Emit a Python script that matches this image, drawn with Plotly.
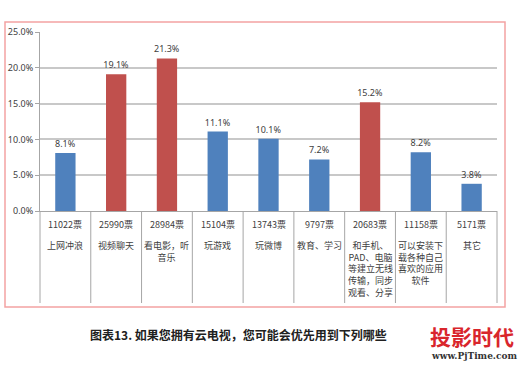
import plotly.graph_objects as go

# ---- data ----
categories = ["上网冲浪", "视频聊天", "看电影，听<br>音乐", "玩游戏", "玩微博", "教育、学习",
              "和手机、<br>PAD、电脑<br>等建立无线<br>传输，同步<br>观看、分享",
              "可以安装下<br>载各种自己<br>喜欢的应用<br>软件", "其它"]
votes = ["11022票", "25990票", "28984票", "15104票", "13743票", "9797票", "20683票", "11158票", "5171票"]
percent = [8.1, 19.1, 21.3, 11.1, 10.1, 7.2, 15.2, 8.2, 3.8]
highlighted = [False, True, True, False, False, False, True, False, False]
y_ticks = [0, 5, 10, 15, 20, 25]
y_tick_labels = ["0.0%", "5.0%", "10.0%", "15.0%", "20.0%", "25.0%"]
title_text = "图表13. 如果您拥有云电视，您可能会优先用到下列哪些"
logo_cn = "投影时代"
logo_url = "www.PjTime.com"

W, H = 523, 365
L, R, T, B = 40, 26, 32, 154
plot_w = W - L - R
plot_h = H - T - B

def py(pix_y):
    return (H - B - pix_y) / plot_h

def px(pix_x):
    return (pix_x - L) / plot_w

BLUE = "#4F81BD"
RED = "#C0504D"
colors = [RED if h else BLUE for h in highlighted]
n = len(categories)
xs = list(range(n))

fig = go.Figure()
fig.add_trace(go.Bar(
    x=xs, y=percent, width=0.4,
    marker=dict(color=colors, line=dict(width=0)),
    text=[f"{v:.1f}%" for v in percent], textposition="outside", constraintext="none",
    textfont=dict(family="Noto Sans", size=9, color="#404040"),
    cliponaxis=False, hoverinfo="skip",
))

annotations = []
for i in range(n):
    annotations.append(dict(x=i, xref="x", y=py(224), yref="paper", text=votes[i],
                            showarrow=False, xanchor="center", yanchor="middle",
                            font=dict(family="Noto Sans CJK SC", size=9, color="#404040")))
    annotations.append(dict(x=i, xref="x", y=py(237), yref="paper", text=categories[i],
                            showarrow=False, xanchor="center", yanchor="top", align="center",
                            font=dict(family="Noto Sans CJK SC", size=9, color="#404040")))

annotations.append(dict(x=px(88), xref="paper", y=py(334), yref="paper", text="<b>" + title_text + "</b>",
                        showarrow=False, xanchor="left", yanchor="middle",
                        font=dict(family="Noto Sans CJK SC", size=12, color="#202020")))
annotations.append(dict(x=px(428), xref="paper", y=py(336), yref="paper", text="<b>" + logo_cn + "</b>",
                        showarrow=False, xanchor="left", yanchor="middle",
                        font=dict(family="Noto Sans CJK SC", size=21, color="#D9262C")))
annotations.append(dict(x=px(429), xref="paper", y=py(356), yref="paper", text="<b>" + logo_url + "</b>",
                        showarrow=False, xanchor="left", yanchor="middle",
                        font=dict(family="DejaVu Serif", size=9, color="#333333")))

shapes = []
for i in range(n + 1):
    shapes.append(dict(type="line", xref="paper", yref="paper", x0=i / n, x1=i / n,
                       y0=0, y1=py(303), line=dict(color="#A6A6A6", width=1)))
shapes.append(dict(type="rect", xref="paper", yref="paper", x0=px(5), x1=px(505),
                   y0=py(307), y1=py(22), line=dict(color="#F3A3A3", width=1.5)))

fig.update_layout(
    width=W, height=H,
    margin=dict(l=L, r=R, t=T, b=B, autoexpand=False),
    paper_bgcolor="white", plot_bgcolor="white",
    showlegend=False, bargap=0.6,
    annotations=annotations, shapes=shapes,
    xaxis=dict(range=[-0.5, n - 0.5], showticklabels=False, showgrid=False, zeroline=False,
               showline=True, linecolor="#A6A6A6", linewidth=1, ticks="", fixedrange=True),
    yaxis=dict(range=[0, 25], tickvals=y_ticks, ticktext=y_tick_labels,
               showgrid=True, gridcolor="#C8C8C8", gridwidth=1.5, zeroline=False,
               showline=True, linecolor="#A6A6A6", linewidth=1,
               ticks="outside", ticklen=4, tickcolor="#A6A6A6",
               tickfont=dict(family="Noto Sans", size=9, color="#404040"), fixedrange=True),
)

fig.write_html("out.html", config={"displayModeBar": False},
               post_script="document.body.style.margin='0';")
